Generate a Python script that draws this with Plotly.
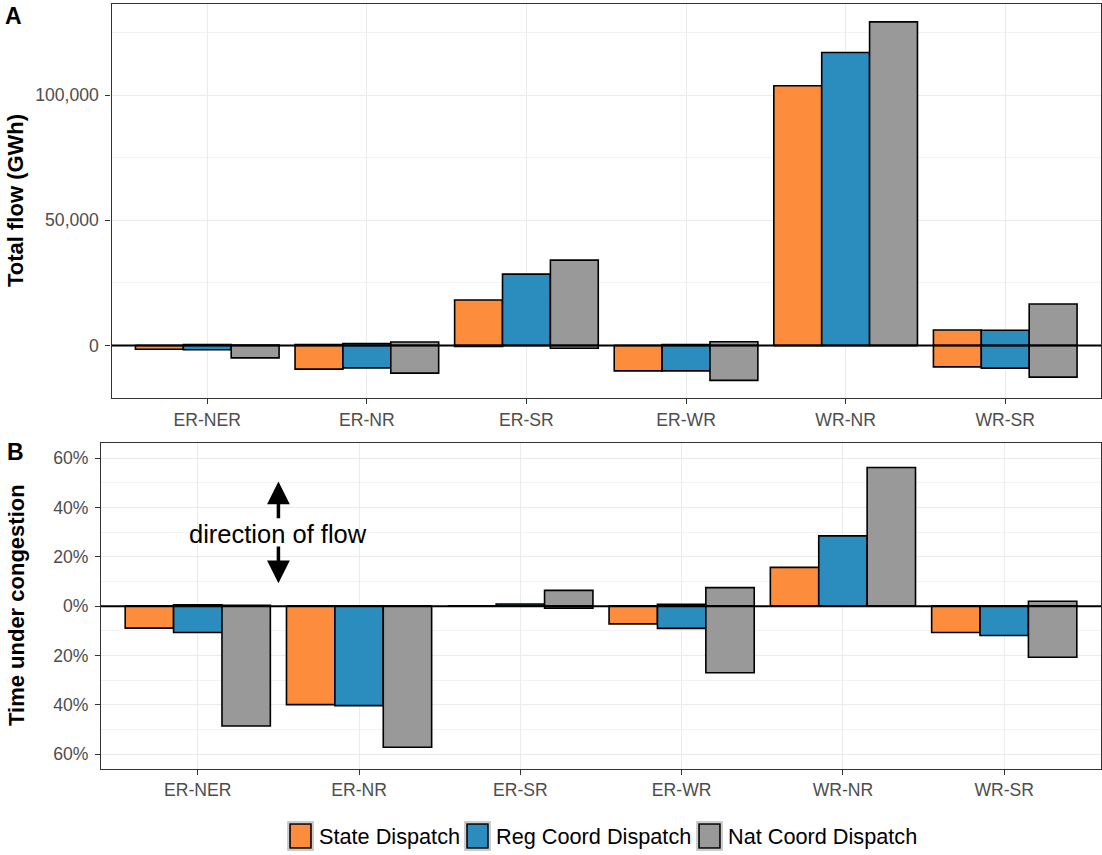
import plotly.graph_objects as go

# ---- data -------------------------------------------------------------
categories = ["ER-NER", "ER-NR", "ER-SR", "ER-WR", "WR-NR", "WR-SR"]
scenarios = ["State Dispatch", "Reg Coord Dispatch", "Nat Coord Dispatch"]

# Total flow (GWh), split by direction of flow
flow_state_pos = [0, 400, 18200, 0, 103700, 6200]
flow_state_neg = [-1500, -9400, -400, -10100, 0, -8500]
flow_reg_pos = [400, 800, 28500, 400, 117000, 6100]
flow_reg_neg = [-1700, -8900, 0, -10100, 0, -9000]
flow_nat_pos = [250, 1400, 34100, 1500, 129200, 16600]
flow_nat_neg = [-4900, -11000, -1100, -13900, 0, -12600]

# Share of time under congestion, split by direction of flow
cong_state_pos = [0.0, 0.0, 0.0, 0.0, 0.157, 0.0]
cong_state_neg = [-0.089, -0.399, 0.0, -0.072, 0.0, -0.107]
cong_reg_pos = [0.005, 0.0, 0.009, 0.008, 0.285, 0.0]
cong_reg_neg = [-0.107, -0.403, 0.0, -0.090, 0.0, -0.119]
cong_nat_pos = [0.003, 0.0, 0.064, 0.075, 0.562, 0.020]
cong_nat_neg = [-0.486, -0.572, -0.008, -0.270, 0.0, -0.207]

flow_ticks = [0, 50000, 100000]
cong_ticks = [-0.6, -0.4, -0.2, 0.0, 0.2, 0.4, 0.6]
cong_ticktext = ["60%", "40%", "20%", "0%", "20%", "40%", "60%"]

# ---- styling ----------------------------------------------------------
W, H = 1102, 855
FONT = "Liberation Sans, Arial, sans-serif"
colors = ["#FD8D3C", "#2B8CBE", "#999999"]
offsets = [-0.45, -0.15, 0.15]
BAR_W = 0.3


def px_x(p):
    return p / W


def px_y(p):
    return 1 - p / H


flow_series = [
    (flow_state_pos, flow_state_neg),
    (flow_reg_pos, flow_reg_neg),
    (flow_nat_pos, flow_nat_neg),
]
cong_series = [
    (cong_state_pos, cong_state_neg),
    (cong_reg_pos, cong_reg_neg),
    (cong_nat_pos, cong_nat_neg),
]

fig = go.Figure()

for series, xa, ya in [(flow_series, "x", "y"), (cong_series, "x2", "y2")]:
    for i, (pos, neg) in enumerate(series):
        for vals in (pos, neg):
            fig.add_trace(go.Bar(
                x=categories, y=vals, width=BAR_W, offset=offsets[i],
                marker=dict(color=colors[i], line=dict(color="black", width=1.6)),
                name=scenarios[i], showlegend=False, hoverinfo="skip",
                xaxis=xa, yaxis=ya,
            ))

# y range with 5% padding around the data
all_flow = [v for p, n in flow_series for v in p + n]
lo, hi = min(all_flow), max(all_flow)
pad = 0.05 * (hi - lo)
flow_range = [lo - pad, hi + pad]

tickfont = dict(family=FONT, size=17.6, color="#4D4D4D")
common_x = dict(
    type="category", range=[-0.6, 5.6], showgrid=True, gridcolor="#EBEBEB",
    gridwidth=1.3, ticks="outside", ticklen=5, tickwidth=1.2, tickcolor="#333333",
    tickfont=tickfont, showline=True, mirror=True, linecolor="#333333",
    linewidth=1.2, zeroline=False, fixedrange=True,
)
common_y = dict(
    showgrid=True, gridcolor="#EBEBEB", gridwidth=1.3, ticks="outside",
    ticklen=5, tickwidth=1.2, tickcolor="#333333", tickfont=tickfont,
    showline=True, mirror=True, linecolor="#333333", linewidth=1.2,
    zeroline=False, ticklabelstandoff=3,
)

fig.update_layout(
    width=W, height=H, margin=dict(l=0, r=0, t=0, b=0),
    paper_bgcolor="white", plot_bgcolor="white",
    barmode="overlay", showlegend=False,
    font=dict(family=FONT),
    xaxis=dict(common_x, domain=[px_x(111.5), px_x(1101)], anchor="y"),
    yaxis=dict(common_y, domain=[px_y(398.3), px_y(4)], anchor="x",
               range=flow_range, tickvals=flow_ticks, tickformat=",",
               minor=dict(dtick=25000, tick0=0, showgrid=True,
                          gridcolor="#F2F2F2", gridwidth=1, ticks="")),
    xaxis2=dict(common_x, domain=[px_x(101), px_x(1101)], anchor="y2"),
    yaxis2=dict(common_y, domain=[px_y(769), px_y(443.3)], anchor="x2",
                range=[-0.66, 0.66], tickvals=cong_ticks, ticktext=cong_ticktext,
                minor=dict(dtick=0.1, tick0=0, showgrid=True,
                           gridcolor="#F2F2F2", gridwidth=1, ticks="")),
)

# zero reference lines on top of the bars
for xd, yr in [("x domain", "y"), ("x2 domain", "y2")]:
    fig.add_shape(type="line", xref=xd, yref=yr, x0=0, x1=1, y0=0, y1=0,
                  line=dict(color="black", width=2), layer="above")

ann = []
# panel tags
ann.append(dict(text="<b>A</b>", x=px_x(13), y=px_y(16), xref="paper", yref="paper",
                showarrow=False, font=dict(size=23, color="black"),
                xanchor="center", yanchor="middle"))
ann.append(dict(text="<b>B</b>", x=px_x(15), y=px_y(452), xref="paper", yref="paper",
                showarrow=False, font=dict(size=23, color="black"),
                xanchor="center", yanchor="middle"))
# axis titles
ann.append(dict(text="<b>Total flow (GWh)</b>", x=px_x(15), y=px_y(201),
                xref="paper", yref="paper", showarrow=False, textangle=-90,
                font=dict(size=22, color="black"), xanchor="center", yanchor="middle"))
ann.append(dict(text="<b>Time under congestion</b>", x=px_x(16), y=px_y(605),
                xref="paper", yref="paper", showarrow=False, textangle=-90,
                font=dict(size=22, color="black"), xanchor="center", yanchor="middle"))
# direction-of-flow note with arrows
ann.append(dict(text="direction of flow", x=0.5, y=0.293, xref="x2", yref="y2",
                showarrow=False, font=dict(size=25.5, color="black"),
                xanchor="center", yanchor="middle"))
for tip, tail in [(0.505, 0.35), (0.093, 0.248)]:
    ann.append(dict(text="", x=0.5, y=tip, ax=0.5, ay=tail,
                    xref="x2", yref="y2", axref="x2", ayref="y2",
                    showarrow=True, arrowhead=2, arrowsize=1.3, arrowwidth=3.5,
                    arrowcolor="black", standoff=0, startstandoff=0))

# legend drawn as keys + labels along the bottom
key_left = [288, 465, 697]
for i, name in enumerate(scenarios):
    x0 = key_left[i]
    fig.add_shape(type="rect", xref="paper", yref="paper",
                  x0=px_x(x0), x1=px_x(x0 + 25), y0=px_y(850), y1=px_y(822),
                  line=dict(color="#BDBDBD", width=1.5), fillcolor="white")
    fig.add_shape(type="rect", xref="paper", yref="paper",
                  x0=px_x(x0 + 2), x1=px_x(x0 + 23), y0=px_y(848), y1=px_y(824),
                  line=dict(color="black", width=1.6), fillcolor=colors[i])
    ann.append(dict(text=name, x=px_x(x0 + 29), y=px_y(836), xref="paper", yref="paper",
                    showarrow=False, font=dict(size=21.7, color="black"),
                    xanchor="left", yanchor="middle"))

fig.update_layout(annotations=ann)
fig.write_html("out.html")
